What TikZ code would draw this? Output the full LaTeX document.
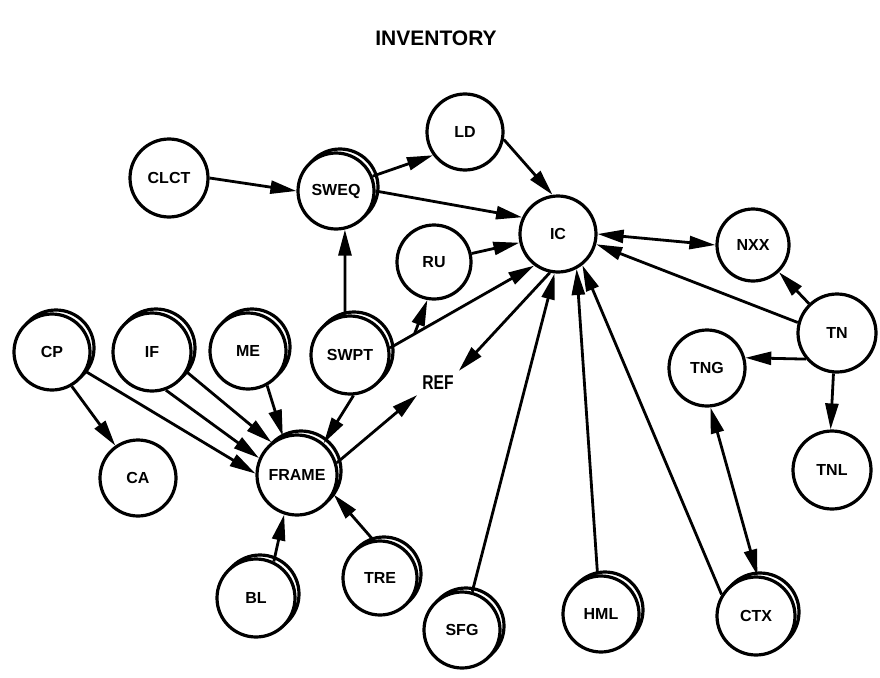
\documentclass[tikz,border=0pt]{standalone}
\usepackage{fontspec}
\setmainfont{Liberation Sans}
\usetikzlibrary{arrows.meta,shadows,calc}

\tikzset{
  every picture/.style={x=1pt,y=-1pt},
  bub/.style={circle,draw=black,fill=white,line width=3.2pt,inner sep=0pt,
    minimum size=76pt,font=\bfseries\fontsize{16}{19}\selectfont},
  dup/.style={bub,copy shadow={shadow xshift=4pt,shadow yshift=4pt}},
  tip/.style={Triangle[length=26pt,width=13pt]},
  link/.style={line width=2.8pt,-{Triangle[length=26pt,width=13pt]}},
  twoway/.style={line width=2.8pt,{Triangle[length=26pt,width=13pt]}-{Triangle[length=26pt,width=13pt]}},
}

\begin{document}
\begin{tikzpicture}
\useasboundingbox (0,0) rectangle (880,677);

\node[font=\bfseries\fontsize{21}{24}\selectfont] (title) at (436,38) {INVENTORY};

% plain bubbles
\node[bub,minimum size=78pt] (CLCT) at (169,178) {CLCT};
\node[bub] (LD) at (465,132) {LD};
\node[bub] (IC) at (558,234) {IC};
\node[bub,minimum size=72pt] (NXX) at (753,245) {NXX};
\node[bub,minimum size=74pt] (RU) at (434,262) {RU};
\node[bub,minimum size=78pt] (TN) at (837,333) {TN};
\node[bub,minimum size=76pt] (TNG) at (707,368) {TNG};
\node[bub,minimum size=78pt] (TNL) at (832,470) {TNL};
\node[bub] (CA) at (138,478) {CA};

% bubbles drawn with a copy behind them
\node[dup] (SWEQ) at (336,191) {SWEQ};
\node[dup] (CP) at (52,352) {CP};
\node[dup,minimum size=78pt] (IF) at (152,352) {IF};
\node[dup] (ME) at (248,351) {ME};
\node[dup,minimum size=78pt] (SWPT) at (350,355) {SWPT};
\node[dup,minimum size=80pt] (FRAME) at (297,475) {FRAME};
\node[dup,minimum size=78pt] (BL) at (256,598) {BL};
\node[dup,minimum size=74pt] (TRE) at (380,578) {TRE};
\node[dup] (SFG) at (462,630) {SFG};
\node[dup] (HML) at (601,614) {HML};
\node[dup,minimum size=78pt] (CTX) at (756,616) {CTX};

% free label
\node[inner sep=5pt,font=\bfseries\fontsize{20}{22}\selectfont] (REF) at (438,383)
  {\scalebox{0.78}[1]{REF}};

% connectors around IC
\draw[link] (CLCT.0) -- (SWEQ.180);
\draw[link] (SWEQ.22) -- (LD.216);
\draw[link] (SWEQ.0) -- (IC.155);
\draw[link] (LD.-11) -- (IC.98);
\draw[link] (SWPT.97) -- (SWEQ.-77);
\draw[link] (RU) -- (IC);
\draw[twoway] (IC.0) -- (NXX.180);
\draw[link] (TN.165) -- (IC.-15);
\draw[link] (TN) -- (NXX);
\draw[link] (TN.220) -- (TNG.15);
\draw[link] (TN.-95) -- (TNL.92);
\draw[link] (SWPT.10) -- (IC.-127);
\coordinate (fork) at ($(SWPT.10)!0.17!(IC.-127)$);
\draw[link] (fork) -- (RU.-100);
\draw[link] (IC.-102) -- (REF.north east);
\draw[link] (SFG.75) -- (IC.-95);
\draw[link] (HML.95) -- (IC.-62);
\draw[link] (CTX.148) -- (IC.-52);
\draw[twoway] (TNG.-85) -- (CTX.88);

% connectors around FRAME
\draw[link] (SWPT.-85) -- (FRAME.50);
\draw[link] (ME.-61) -- (FRAME.110);
\draw[link] (IF.-30) -- (FRAME.128);
\draw[link] (IF.-70) -- (FRAME.156);
\draw[link] (CP.-30) -- (FRAME.178);
\draw[link] (CP.-60) -- (CA.125);
\draw[link] (FRAME.17) -- (REF.south west);
\draw[link] (BL.64) -- (FRAME.-108);
\draw[link] (TRE.100) -- (FRAME.-28);
\end{tikzpicture}
\end{document}
